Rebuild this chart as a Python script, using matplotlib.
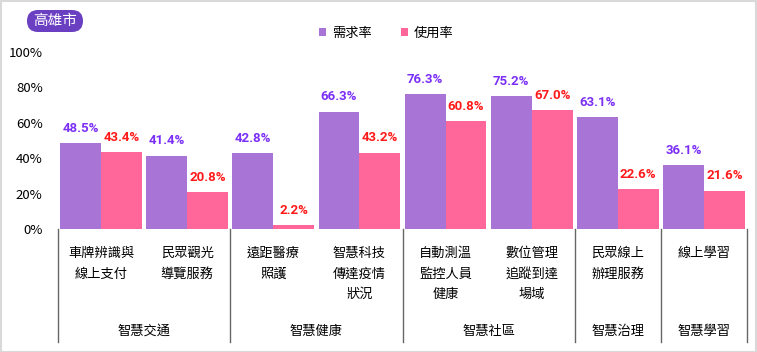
import matplotlib
matplotlib.use("Agg")
import matplotlib.pyplot as plt
from matplotlib.patches import FancyBboxPatch, Rectangle
import matplotlib.transforms as mtransforms

plt.rcParams['font.family'] = ['Noto Sans CJK TC', 'DejaVu Sans']

categories = ["車牌辨識與\n線上支付", "民眾觀光\n導覽服務", "遠距醫療\n照護", "智慧科技\n傳達疫情\n狀況",
              "自動測溫\n監控人員\n健康", "數位管理\n追蹤到達\n場域", "民眾線上\n辦理服務", "線上學習"]
groups = ["智慧交通", "智慧健康", "智慧社區", "智慧治理", "智慧學習"]
group_sizes = [2, 2, 2, 1, 1]
demand = [48.5, 41.4, 42.8, 66.3, 76.3, 75.2, 63.1, 36.1]
usage = [43.4, 20.8, 2.2, 43.2, 60.8, 67.0, 22.6, 21.6]
yticks = [0, 20, 40, 60, 80, 100]
series_names = ["需求率", "使用率"]

c_demand = "#A875D6"
c_usage = "#FF6699"
c_dlab = "#7B2FF7"
c_ulab = "#FF1A1A"

W, H = 757, 352
fig = plt.figure(figsize=(W/100, H/100), dpi=100)
ax = fig.add_axes([58/W, (H-229)/H, (747-58)/W, 177/H])

n = len(categories)
x = list(range(n))
bw = 0.475
ax.bar([i - bw/2 for i in x], demand, width=bw, color=c_demand, label=series_names[0])
ax.bar([i + bw/2 for i in x], usage, width=bw, color=c_usage, label=series_names[1])

lab_font = dict(fontsize=9.5, fontweight="bold", family=["Liberation Sans Narrow", "Roboto", "DejaVu Sans"])
for i in x:
    ax.annotate(f"{demand[i]:.1f}%", (i - bw/2, demand[i]), xytext=(0, 6), textcoords="offset points",
                ha="center", va="bottom", color=c_dlab, **lab_font)
    ax.annotate(f"{usage[i]:.1f}%", (i + bw/2, usage[i]), xytext=(0, 6), textcoords="offset points",
                ha="center", va="bottom", color=c_ulab, **lab_font)

ax.set_xlim(-0.5, n - 0.5)
ax.set_ylim(0, 100)
ax.set_yticks(yticks)
ax.set_yticklabels([f"{v}%" for v in yticks], fontsize=9.5)
ax.tick_params(axis="y", length=0, pad=11)
ax.set_xticks([])
for s in ax.spines.values():
    s.set_visible(False)

trans = mtransforms.blended_transform_factory(ax.transData, ax.transAxes)
for i, lab in enumerate(categories):
    ax.text(i, -0.1, lab, transform=trans, ha="center", va="top", fontsize=9.5, linespacing=1.78)

bottom = (229 - 342) / 177
pos = -0.5
bounds = [pos]
for gi, (g, sz) in enumerate(zip(groups, group_sizes)):
    center = pos + sz / 2
    ax.text(center, (229 - 331) / 177, g, transform=trans, ha="center", va="center", fontsize=9.5)
    pos += sz
    bounds.append(pos)
for b in bounds:
    ax.plot([b, b], [0, bottom], transform=trans, color="#666666", lw=1, clip_on=False)

# legend
leg = fig.legend(loc="center", bbox_to_anchor=(386/W, 1 - 33/H), ncol=2, frameon=False,
                 fontsize=9.5, handlelength=0.6, handleheight=0.6, handletextpad=0.4, columnspacing=2.2)

# badge
badge = FancyBboxPatch((27/W, 1 - 32/H), 56/W, 22/H, boxstyle="round,pad=0,rounding_size=0.0145",
                       transform=fig.transFigure, facecolor="#6A3FC2", edgecolor="none", mutation_aspect=W/H)
fig.patches.append(badge)
fig.text(55/W, 1 - 21.5/H, "高雄市", ha="center", va="center", color="white", fontsize=10.5)

# border
fig.patches.append(Rectangle((0.5/W, 0.5/H), (W-1.5)/W, (H-1.5)/H, transform=fig.transFigure,
                             fill=False, edgecolor="#D9D9D9", lw=1.5))

fig.savefig("out.png", dpi=100)
